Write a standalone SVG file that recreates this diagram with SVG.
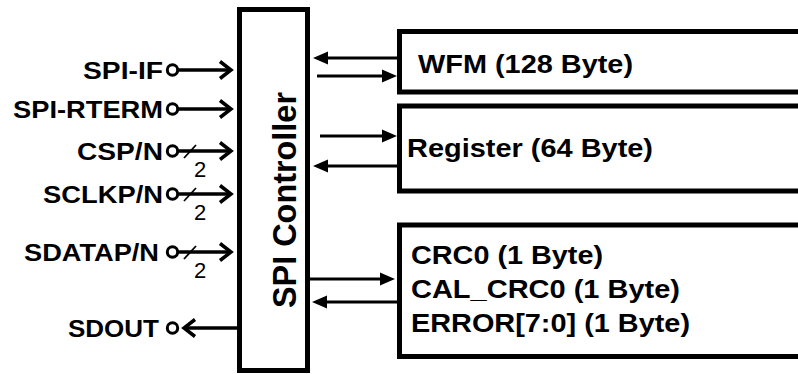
<svg xmlns="http://www.w3.org/2000/svg" width="798" height="374" viewBox="0 0 798 374">
  <style>
    .box { fill: #fff; stroke: #000; stroke-width: 5; }
    .lbl { font-family: "Liberation Sans", Arial, sans-serif; font-weight: bold; fill: #000; }
    .pin { font-size: 24px; text-anchor: end; }
    .mem { font-size: 26px; }
    .bus { font-family: "Liberation Sans", Arial, sans-serif; font-size: 22px; fill: #000; }
    .wire { stroke: #000; stroke-width: 3; fill: none; }
    .io { stroke: #000; stroke-width: 3.5; fill: none; }
    .pad { fill: #fff; stroke: #000; stroke-width: 3; }
    .slash { stroke: #000; stroke-width: 1.8; }
  </style>
  <defs>
    <marker id="solid" markerUnits="userSpaceOnUse" markerWidth="16" markerHeight="14" viewBox="0 0 16 14" refX="7" refY="7" orient="auto">
      <path d="M0,0.5 L15,7 L0,13.5 z" fill="#000"/>
    </marker>
    <marker id="open" markerUnits="userSpaceOnUse" markerWidth="18" markerHeight="24" viewBox="-14 -12 18 24" refX="0" refY="0" orient="auto">
      <path d="M-11,-8.5 L0,0 L-11,8.5" fill="none" stroke="#000" stroke-width="3.5" stroke-linejoin="miter"/>
    </marker>
  </defs>

  <rect width="798" height="374" fill="#fff"/>

  <!-- SPI controller block -->
  <g id="spi-controller">
    <rect class="box" x="239.5" y="9.5" width="68" height="361"/>
    <text class="lbl" font-size="33" transform="translate(296,200) rotate(-90)" text-anchor="middle" textLength="216" lengthAdjust="spacingAndGlyphs">SPI Controller</text>
  </g>

  <!-- memory blocks (open to the right) -->
  <g id="wfm">
    <rect class="box" x="399.5" y="31.5" width="420" height="60.5"/>
    <text class="lbl mem" x="418" y="73" textLength="215" lengthAdjust="spacingAndGlyphs">WFM (128 Byte)</text>
  </g>
  <g id="register">
    <rect class="box" x="399.5" y="106" width="420" height="85"/>
    <text class="lbl mem" x="407" y="157" textLength="246" lengthAdjust="spacingAndGlyphs">Register (64 Byte)</text>
  </g>
  <g id="crc">
    <rect class="box" x="399.5" y="225" width="420" height="131.5"/>
    <text class="lbl mem" x="411" y="264" textLength="192" lengthAdjust="spacingAndGlyphs">CRC0 (1 Byte)</text>
    <text class="lbl mem" x="411" y="298" textLength="269" lengthAdjust="spacingAndGlyphs">CAL_CRC0 (1 Byte)</text>
    <text class="lbl mem" x="411" y="332" textLength="279" lengthAdjust="spacingAndGlyphs">ERROR[7:0] (1 Byte)</text>
  </g>

  <!-- pins -->
  <g id="pin-spi-if">
    <text class="lbl pin" x="163" y="79" textLength="80" lengthAdjust="spacingAndGlyphs">SPI-IF</text>
    <circle class="pad" cx="172.5" cy="70" r="5.2"/>
  </g>
  <g id="pin-spi-rterm">
    <text class="lbl pin" x="163" y="118" textLength="150" lengthAdjust="spacingAndGlyphs">SPI-RTERM</text>
    <circle class="pad" cx="172.5" cy="109" r="5.2"/>
  </g>
  <g id="pin-csp">
    <text class="lbl pin" x="163" y="160" textLength="86" lengthAdjust="spacingAndGlyphs">CSP/N</text>
    <circle class="pad" cx="172.5" cy="151" r="5.2"/>
  </g>
  <g id="pin-sclkp">
    <text class="lbl pin" x="163" y="203" textLength="120" lengthAdjust="spacingAndGlyphs">SCLKP/N</text>
    <circle class="pad" cx="172.5" cy="194" r="5.2"/>
  </g>
  <g id="pin-sdatap">
    <text class="lbl pin" x="159" y="261" textLength="135" lengthAdjust="spacingAndGlyphs">SDATAP/N</text>
    <circle class="pad" cx="172.5" cy="252" r="5.2"/>
  </g>
  <g id="pin-sdout">
    <text class="lbl pin" x="159" y="337" textLength="91" lengthAdjust="spacingAndGlyphs">SDOUT</text>
    <circle class="pad" cx="172.5" cy="328" r="5.2"/>
  </g>

  <!-- connectors -->
  <g id="connectors">
    <!-- pins to controller -->
    <line class="io" x1="177.7" y1="70" x2="231" y2="70" marker-end="url(#open)"/>
    <line class="io" x1="177.7" y1="109" x2="231" y2="109" marker-end="url(#open)"/>
    <line class="io" x1="177.7" y1="151" x2="231" y2="151" marker-end="url(#open)"/>
    <line class="io" x1="177.7" y1="194" x2="231" y2="194" marker-end="url(#open)"/>
    <line class="io" x1="177.7" y1="252" x2="231" y2="252" marker-end="url(#open)"/>
    <line class="io" x1="237" y1="328" x2="184" y2="328" marker-end="url(#open)"/>

    <!-- 2-bit bus marks -->
    <line class="slash" x1="184" y1="158" x2="196" y2="145"/>
    <text class="bus" x="194" y="177">2</text>
    <line class="slash" x1="184" y1="201" x2="196" y2="188"/>
    <text class="bus" x="194" y="220">2</text>
    <line class="slash" x1="184" y1="259" x2="196" y2="246"/>
    <text class="bus" x="194" y="278">2</text>

    <!-- controller to memory blocks -->
    <line class="wire" x1="397" y1="58" x2="321" y2="58" marker-end="url(#solid)"/>
    <line class="wire" x1="317" y1="76" x2="389" y2="76" marker-end="url(#solid)"/>
    <line class="wire" x1="320" y1="136" x2="389" y2="136" marker-end="url(#solid)"/>
    <line class="wire" x1="397" y1="166" x2="321" y2="166" marker-end="url(#solid)"/>
    <line class="wire" x1="310" y1="279" x2="387" y2="279" marker-end="url(#solid)"/>
    <line class="wire" x1="397" y1="302" x2="320" y2="302" marker-end="url(#solid)"/>
  </g>
</svg>
